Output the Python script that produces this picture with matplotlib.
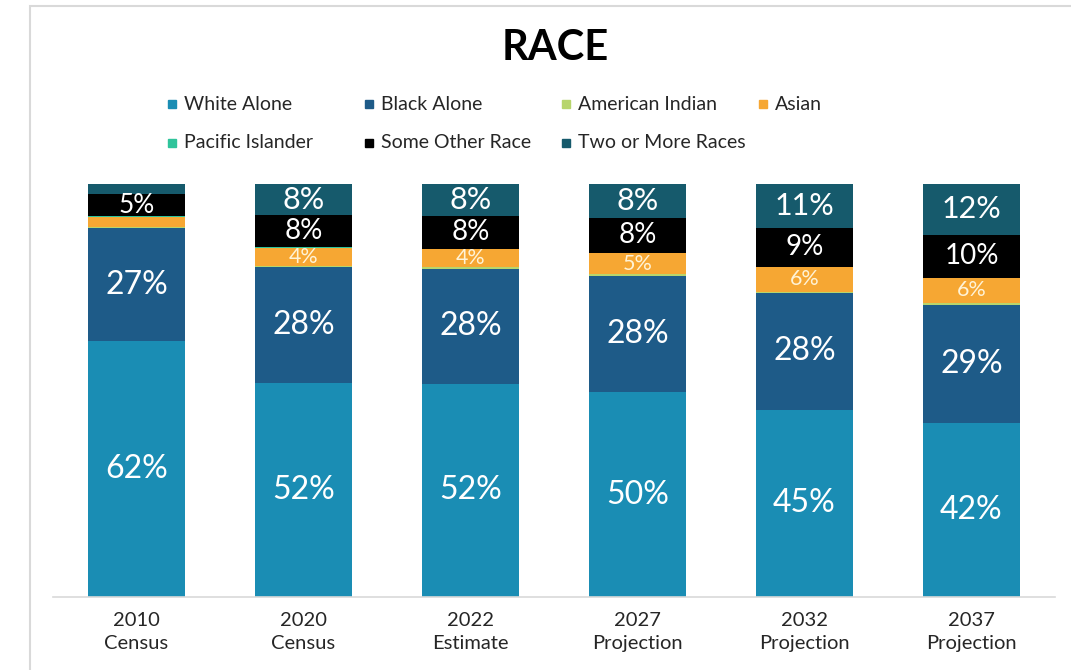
import numpy as np
import matplotlib.pyplot as plt
from matplotlib.patches import Rectangle

plt.rcParams['font.family'] = ['Lato', 'DejaVu Sans']

years = ['2010\nCensus', '2020\nCensus', '2022\nEstimate', '2027\nProjection', '2032\nProjection', '2037\nProjection']
races = ['White Alone', 'Black Alone', 'American Indian', 'Asian',
         'Pacific Islander', 'Some Other Race', 'Two or More Races']

white = [62.0, 51.8, 51.6, 49.6, 45.3, 42.1]
black = [27.3, 28.0, 27.9, 28.2, 28.3, 28.6]
am_indian = [0.4, 0.4, 0.4, 0.3, 0.3, 0.6]
asian = [2.4, 4.4, 4.4, 5.2, 6.0, 6.0]
pacific = [0.05, 0.05, 0.05, 0.05, 0.05, 0.05]
other = [5.4, 7.8, 8.0, 8.4, 9.4, 10.4]
two_plus = [2.4, 7.5, 7.6, 8.2, 10.6, 12.2]

series = [white, black, am_indian, asian, pacific, other, two_plus]
colors = ['#1a8db4', '#1e5b88', '#b7d56c', '#f6a733', '#2fc49b', '#000000', '#165a6c']
label_size = [23, 23, 0, 15.5, 0, 20, 22]
label_color = ['white', 'white', 'white', '#fff3d6', 'white', 'white', 'white']

fig = plt.figure(figsize=(10.71, 6.70), dpi=100)
# light outer frame
fig.add_artist(Rectangle((30/1071, -0.1), 1.2, 1 - 6/670 + 0.1, transform=fig.transFigure,
                         fill=False, edgecolor='#d9d9d9', linewidth=1.5))
ax = fig.add_axes([53/1071, 73/670, 1002/1071, 413/670])

x = np.arange(len(years))
bottom = np.zeros(len(years))
for k, (vals, name, col) in enumerate(zip(series, races, colors)):
    vals = np.array(vals)
    ax.bar(x, vals, 0.575, bottom=bottom, color=col, label=name, edgecolor='none')
    for i, v in enumerate(vals):
        if v >= 3.5:
            fs = min(label_size[k], 3.5 * v)
            ax.text(x[i], bottom[i] + v / 2, f'{int(v + 0.5)}%', ha='center', va='center',
                    color=label_color[k], fontsize=fs)
    bottom += vals

ax.set_xlim(-0.5, len(years) - 0.5)
ax.set_ylim(0, 100)
ax.set_yticks([])
ax.set_xticks(x)
ax.set_xticklabels(years, fontsize=14.5, color='#262626', linespacing=1.4)
ax.tick_params(axis='x', length=0, pad=11)
for s in ['top', 'right', 'left']:
    ax.spines[s].set_visible(False)
ax.spines['bottom'].set_color('#d9d9d9')
ax.spines['bottom'].set_linewidth(1.2)

fig.text(555/1071, 1 - 48/670, 'RACE', ha='center', va='center', fontsize=30, fontweight='bold')

# legend laid out in equal-width columns, row by row
for j, (name, col) in enumerate(zip(races, colors)):
    px = 172 + 197 * (j % 4)
    py = 104 + 39 * (j // 4)
    fig.add_artist(Rectangle(((px - 4) / 1071, 1 - (py + 4) / 670), 8 / 1071, 8 / 670,
                             transform=fig.transFigure, color=col))
    fig.text((px + 12) / 1071, 1 - py / 670, name, ha='left', va='center',
             fontsize=14, color='#262626')

plt.savefig('out.png', dpi=100)
